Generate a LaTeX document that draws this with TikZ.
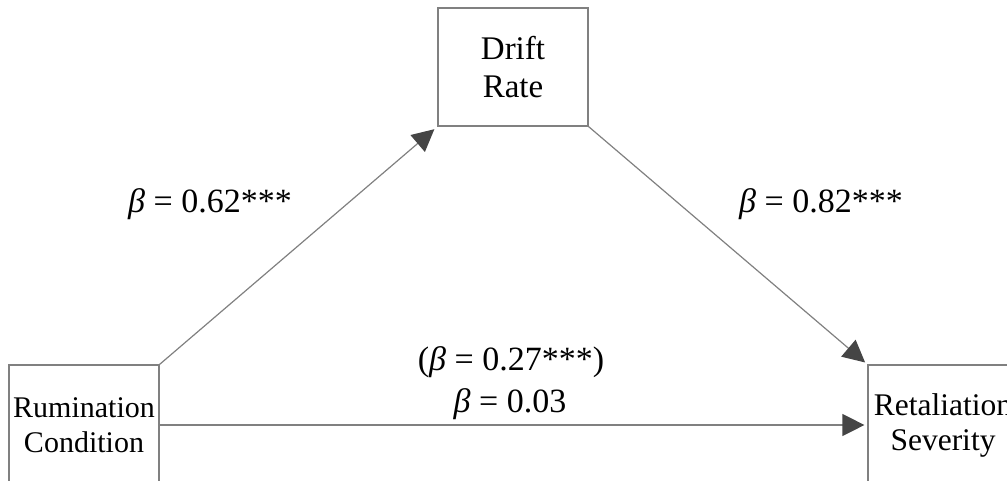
\documentclass[tikz,border=0pt]{standalone}
\usepackage{fontspec}
\setmainfont{Liberation Serif}
\usetikzlibrary{arrows.meta}
\definecolor{linegray}{HTML}{808080}
\definecolor{headgray}{HTML}{454545}
\begin{document}
\begin{tikzpicture}[x=1pt,y=-1pt,
  box/.style={draw=linegray,line width=1.2pt,minimum width=150pt,inner sep=0pt,align=center},
  conn/.style={draw=linegray,line width=1.2pt,-{Triangle[length=22pt,width=22pt,color=headgray]}},
  lab/.style={font=\fontsize{34}{40}\selectfont,inner sep=0pt,anchor=base}]
\useasboundingbox (0,0) rectangle (1007,480);
\clip (0,0) rectangle (1007,480);
\node[box,minimum height=120pt,font=\fontsize{30}{35}\selectfont] (rum) at (84,425) {Rumination\\Condition};
\node[box,minimum height=118pt,font=\fontsize{33}{38}\selectfont] (drift) at (513,67) {Drift\\Rate};
\node[box,minimum height=120pt,font=\fontsize{31.5}{35}\selectfont] (ret) at (943,425) {Retaliation\\Severity};
\draw[conn,shorten >=4pt] (rum.north east) -- (drift.south west);
\draw[conn,shorten >=3pt] (drift.south east) -- (ret.north west);
\draw[conn,shorten >=3pt] (rum.east) -- (ret.west);
\node[lab] (l1) at (210,212) {\textit{β} = 0.62***};
\node[lab] (l2) at (821,212) {\textit{β} = 0.82***};
\node[lab] (l3) at (511,370) {(\textit{β} = 0.27***)};
\node[lab] (l4) at (510,412) {\textit{β} = 0.03};
\end{tikzpicture}
\end{document}
